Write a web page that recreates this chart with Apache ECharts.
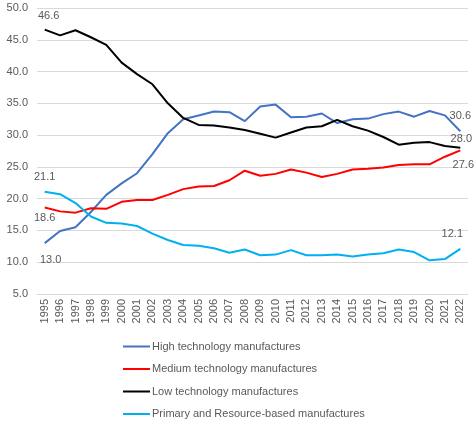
<!DOCTYPE html>
<html>
<head>
<meta charset="utf-8">
<script src="https://cdn.jsdelivr.net/npm/echarts@6/dist/echarts.min.js"></script>
<style>
  html, body { margin: 0; padding: 0; background: #fff; }
  #chart { width: 475px; height: 421px; }
</style>
</head>
<body>
<div id="chart"></div>
<script>
  const years = ['1995','1996','1997','1998','1999','2000','2001','2002','2003','2004','2005','2006','2007','2008',
    '2009','2010','2011','2012','2013','2014','2015','2016','2017','2018','2019','2020','2021','2022'];
  const highTech = [13.0,14.9,15.5,17.9,20.6,22.4,24.0,27.0,30.3,32.5,33.1,33.7,33.6,32.2,
    34.5,34.8,32.8,32.9,33.4,31.9,32.5,32.6,33.3,33.7,32.9,33.8,33.1,30.6];
  const mediumTech = [18.6,18.0,17.8,18.5,18.4,19.5,19.8,19.8,20.6,21.5,21.9,22.0,22.9,24.4,
    23.6,23.9,24.6,24.1,23.4,23.9,24.6,24.7,24.9,25.3,25.4,25.4,26.6,27.6];
  const lowTech = [46.6,45.7,46.5,45.4,44.2,41.4,39.6,38.0,35.0,32.7,31.6,31.5,31.2,30.8,
    30.2,29.6,30.4,31.2,31.4,32.4,31.4,30.7,29.7,28.5,28.8,28.9,28.3,28.0];
  const primaryRes = [21.1,20.7,19.3,17.2,16.2,16.1,15.7,14.5,13.5,12.7,12.6,12.2,11.5,12.0,
    11.1,11.2,11.9,11.1,11.1,11.2,10.9,11.2,11.4,12.0,11.6,10.3,10.5,12.1];

  const yMin = 5, yMax = 50, yStep = 5;
  const textColor = '#595959';

  // only the first and last point get a value label
  function withEndLabels(values, firstPos, lastPos) {
    return values.map((v, i) => {
      if (i === 0) return { value: v, label: Object.assign({ show: true }, firstPos) };
      if (i === values.length - 1) return { value: v, label: Object.assign({ show: true }, lastPos) };
      return v;
    });
  }

  function makeSeries(name, color, values, firstPos, lastPos) {
    return {
      name: name,
      type: 'line',
      symbol: 'circle',
      symbolSize: 0,
      showSymbol: true,
      data: withEndLabels(values, firstPos, lastPos),
      lineStyle: { color: color, width: 2 },
      itemStyle: { color: color },
      label: {
        show: false,
        color: textColor,
        fontSize: 11,
        fontFamily: 'Liberation Sans',
        formatter: p => Number(p.value).toFixed(1)
      },
      z: 3
    };
  }

  const myChart = echarts.init(document.getElementById('chart'));
  myChart.setOption({
    animation: false,
    grid: { left: 37, right: 7, top: 8, bottom: 127, containLabel: false },
    legend: {
      orient: 'vertical',
      left: 123,
      top: 341,
      height: 100,
      padding: 0,
      icon: 'rect',
      itemWidth: 27,
      itemHeight: 2,
      itemGap: 11.5,
      textStyle: { color: textColor, fontSize: 11, fontFamily: 'Liberation Sans', padding: [0, 0, 0, -3] },
      data: ['High technology manufactures', 'Medium technology manufactures',
        'Low technology manufactures', 'Primary and Resource-based manufactures']
    },
    xAxis: {
      type: 'category',
      data: years,
      boundaryGap: true,
      axisLine: { lineStyle: { color: '#d9d9d9' } },
      axisTick: { show: false },
      axisLabel: { rotate: 90, interval: 0, color: textColor, fontSize: 11, fontFamily: 'Liberation Sans', margin: 5 }
    },
    yAxis: {
      type: 'value',
      min: yMin,
      max: yMax,
      interval: yStep,
      axisLine: { show: false },
      axisTick: { show: false },
      splitLine: { lineStyle: { color: '#d9d9d9', width: 1 } },
      axisLabel: { color: textColor, fontSize: 11, fontFamily: 'Liberation Sans', margin: 9,
        formatter: v => v.toFixed(1) }
    },
    series: [
      makeSeries('High technology manufactures', '#4472C4', highTech,
        { position: 'bottom', distance: 8, offset: [6, 3] }, { position: 'top', offset: [0, -4], distance: 6 }),
      makeSeries('Medium technology manufactures', '#FF0000', mediumTech,
        { position: 'bottom', distance: 5 }, { position: 'bottom', distance: 8, offset: [3, 1] }),
      makeSeries('Low technology manufactures', '#000000', lowTech,
        { position: 'top', distance: 8, offset: [4, 0] }, { position: 'top', distance: 3, offset: [1, 0] }),
      makeSeries('Primary and Resource-based manufactures', '#00B0F0', primaryRes,
        { position: 'top', distance: 9 }, { position: 'top', distance: 9, offset: [-8, 0] })
    ]
  });
</script>
</body>
</html>
